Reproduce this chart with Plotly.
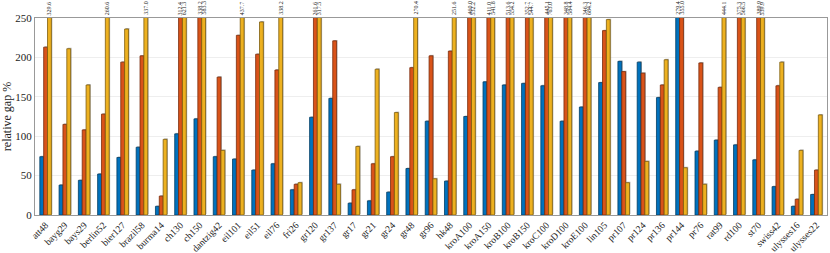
import plotly.graph_objects as go

categories = ["att48", "bayg29", "bays29", "berlin52", "bier127", "brazil58", "burma14",
              "ch130", "ch150", "dantzig42", "eil101", "eil51", "eil76", "fri26", "gr120",
              "gr137", "gr17", "gr21", "gr24", "gr48", "gr96", "hk48", "kroA100", "kroA150",
              "kroB100", "kroB150", "kroC100", "kroD100", "kroE100", "lin105", "pr107",
              "pr124", "pr136", "pr144", "pr76", "rat99", "rd100", "st70", "swiss42",
              "ulysses16", "ulysses22"]

series_blue = [74, 38, 44, 52, 73, 86, 11, 103, 122, 74, 71, 57, 65, 32, 124,
               148, 15, 18, 29, 59, 119, 43, 125, 169, 165, 167, 164, 119, 137, 168, 195,
               194, 149, 279.4, 81, 95, 89, 70, 36, 11, 26]
series_red = [213, 115, 108, 128, 194, 202, 24, 312.4, 338.2, 175, 228, 204, 184, 39, 261.6,
              221, 32, 65, 74, 187, 202, 208, 460.0, 411.0, 513.6, 352.7, 445.1, 348.8, 346.3, 234, 182,
              180, 165, 355.0, 193, 162, 375.3, 389.9, 164, 20, 57]
series_yellow = [329.6, 211, 165, 260.6, 236, 337.0, 96, 621.3, 583.3, 82, 437.7, 245, 338.2, 41, 317.5,
                 39, 87, 185, 130, 270.4, 46, 251.6, 532.2, 541.8, 554.2, 544.7, 763.0, 584.4, 684.2, 248, 41,
                 68, 197, 60, 39, 444.1, 566.5, 539.9, 194, 82, 127]

y_max = 250
colors = ["#0072BD", "#D95319", "#EDB120"]
edges = ["#003c63", "#7a2c0c", "#7d5d0e"]
series = [series_blue, series_red, series_yellow]

xs = list(range(len(categories)))
bw = 0.2
font = "Liberation Serif"

fig = go.Figure()
# shadows
for j, vals in enumerate(series):
    fig.add_trace(go.Bar(x=xs, y=vals, base=1.2, width=bw, offset=-0.3 + bw * j + 0.05,
                         marker=dict(color="rgba(120,120,120,0.55)", line=dict(width=0)),
                         showlegend=False, hoverinfo="skip"))
for j, vals in enumerate(series):
    fig.add_trace(go.Bar(x=xs, y=vals, width=bw, offset=-0.3 + bw * j,
                         marker=dict(color=colors[j], line=dict(color=edges[j], width=0.8)),
                         showlegend=False))

annotations = []
for j, vals in enumerate(series):
    for i, v in enumerate(vals):
        if v > y_max:
            annotations.append(dict(x=i - 0.3 + bw * j + bw / 2, y=y_max, xref="x", yref="y",
                                    text=f"{v:.1f}", textangle=-90, showarrow=False,
                                    yanchor="bottom", xanchor="center", yshift=1,
                                    font=dict(family=font, size=6, color="#222")))

fig.update_layout(
    width=830, height=253,
    margin=dict(l=35, r=3, t=18, b=38),
    barmode="overlay",
    plot_bgcolor="white", paper_bgcolor="white",
    font=dict(family=font, size=11, color="#222"),
    annotations=annotations,
    xaxis=dict(tickmode="array", tickvals=xs, ticktext=categories, tickangle=-45,
               range=[-0.55, len(categories) - 0.45], showline=True, mirror=True,
               linecolor="#999", linewidth=1, showgrid=False, ticks="", automargin=False,
               tickfont=dict(family=font, size=9.5, color="#222")),
    yaxis=dict(range=[0, y_max], dtick=50, showline=True, mirror=True, automargin=False,
               linecolor="#999", linewidth=1, gridcolor="#eeeeee", zeroline=False,
               title=dict(text="relative gap %", font=dict(family=font, size=12), standoff=6),
               tickfont=dict(family=font, size=11, color="#222")),
)

fig.write_html("out.html", config={"displayModeBar": False},
               post_script="document.body.style.margin='0';document.body.style.overflow='hidden';")
